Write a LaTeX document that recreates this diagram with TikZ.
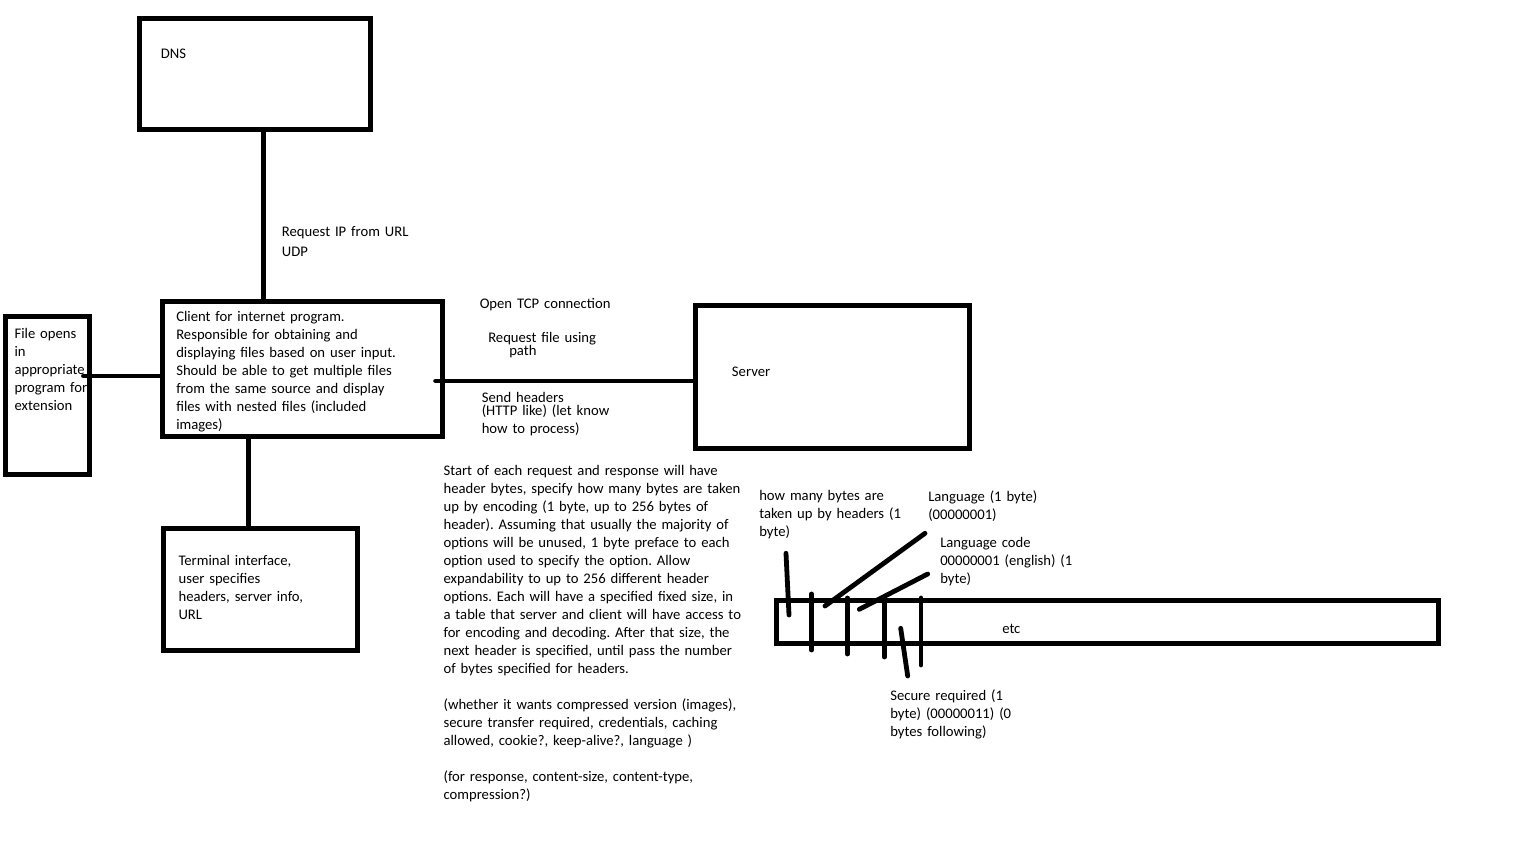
\documentclass[tikz,border=0pt]{standalone}
\usepackage{fontspec}
\setmainfont{Carlito}
\frenchspacing
\begin{document}
\begin{tikzpicture}[x=0.75pt,y=-0.75pt,
  box/.style={draw=black,line width=3.75pt,rectangle,inner sep=0pt},
  wire/.style={draw=black,line width=3.4pt,line cap=round},
  tick/.style={draw=black,line width=3.6pt,line cap=round},
  lbl/.style={anchor=base west,inner sep=0pt,align=left,text width=330pt,
    font=\fontsize{11pt}{13.5pt}\selectfont}
]
\useasboundingbox (0,0) rectangle (1536,864);

% boxes
\node[box,minimum width=173.25pt,minimum height=82.9pt]  (dns)      at (255,73.75) {};
\node[box,minimum width=210pt,minimum height=101.6pt]    (client)   at (302.5,368.75) {};
\node[box,minimum width=63pt,minimum height=118.6pt]     (file)     at (47.8,395.1) {};
\node[box,minimum width=204.9pt,minimum height=107.1pt]  (server)   at (832.4,376.6) {};
\node[box,minimum width=145.5pt,minimum height=91.7pt]   (terminal) at (260.5,589.65) {};
\node[box,minimum width=496.7pt,minimum height=32.25pt]  (bar)      at (1107.85,621.5) {};

% connectors between the components
\draw[wire] (dns.south -| 263.3,0) -- (client.north -| 263.3,0);
\draw[wire] (file.east |- 0,376) ++(-9,0) -- (client.west |- 0,376);
\draw[wire] (client.east |- 0,381) ++(-9.5,0) -- (server.west |- 0,381);
\draw[wire] (client.south -| 248.5,0) -- (terminal.north -| 248.5,0);

% byte dividers of the header bar
\draw[tick] (811.7,594) -- (811.7,650);
\draw[tick] (847.3,598) -- (847.3,654);
\draw[tick] (884.3,598) -- (884.3,657);
\draw[tick] (921,598) -- (921,665);

% text
\node[lbl] (dnstxt) at (160.7,58.3) {DNS};
\node[lbl] (udp) at (281.7,236.7) {Request IP from URL\\[1pt]UDP};
\node[lbl] (filetxt) at (14.3,338.3) {File opens\\in\\appropriate\\program for\\extension};
\node[lbl] (clienttxt) at (176,321) {Client for internet program.\\Responsible for obtaining and\\displaying files based on user input.\\Should be able to get multiple files\\from the same source and display\\files with nested files (included\\images)};
\node[lbl] (termtxt) at (178.3,565.7) {Terminal interface,\\user specifies\\headers, server info,\\URL};
\node[lbl] (servertxt) at (731.7,376.7) {Server};
\node[lbl] (tcp) at (479.5,308) {Open TCP connection};
\node[lbl] (reqfile) at (488,342) {Request file using\\[-3.75pt]\hspace*{15.75pt}path};
\node[lbl] (sendhdr) at (481.5,402) {Send headers\\[-3.75pt](HTTP like) (let know\\how to process)};
\node[lbl] (para) at (443.3,475.7) {Start of each request and response will have\\header bytes, specify how many bytes are taken\\up by encoding (1 byte, up to 256 bytes of\\header). Assuming that usually the majority of\\options will be unused, 1 byte preface to each\\option used to specify the option. Allow\\expandability to up to 256 different header\\options. Each will have a specified fixed size, in\\a table that server and client will have access to\\for encoding and decoding. After that size, the\\next header is specified, until pass the number\\of bytes specified for headers.\\[13.5pt](whether it wants compressed version (images),\\secure transfer required, credentials, caching\\allowed, cookie?, keep-alive?, language )\\[13.5pt](for response, content-size, content-type,\\compression?)};
\node[lbl] (bytestxt) at (759,500) {how many bytes are\\taken up by headers (1\\byte)};
\node[lbl] (langtxt) at (928,501) {Language (1 byte)\\(00000001)};
\node[lbl] (codetxt) at (940,547.5) {Language code\\00000001 (english) (1\\byte)};
\node[lbl] (securetxt) at (890,700) {Secure required (1\\byte) (00000011) (0\\bytes following)};
\node[lbl] (etctxt) at (1002,633) {etc};

% pointers from the labels into the bar
\coordinate (p1a) at (786,553.3);   \coordinate (p1b) at (789,615);
\coordinate (p2a) at (925,533.3);   \coordinate (p2b) at (825,606);
\coordinate (p3a) at (927.7,574);   \coordinate (p3b) at (859.3,609.3);
\coordinate (p4a) at (900.7,628.3); \coordinate (p4b) at (907.7,676);
\draw[tick] (p1a) -- (p1b);
\draw[tick] (p2a) -- (p2b);
\draw[tick] (p3a) -- (p3b);
\draw[tick] (p4a) -- (p4b);
\end{tikzpicture}
\end{document}
